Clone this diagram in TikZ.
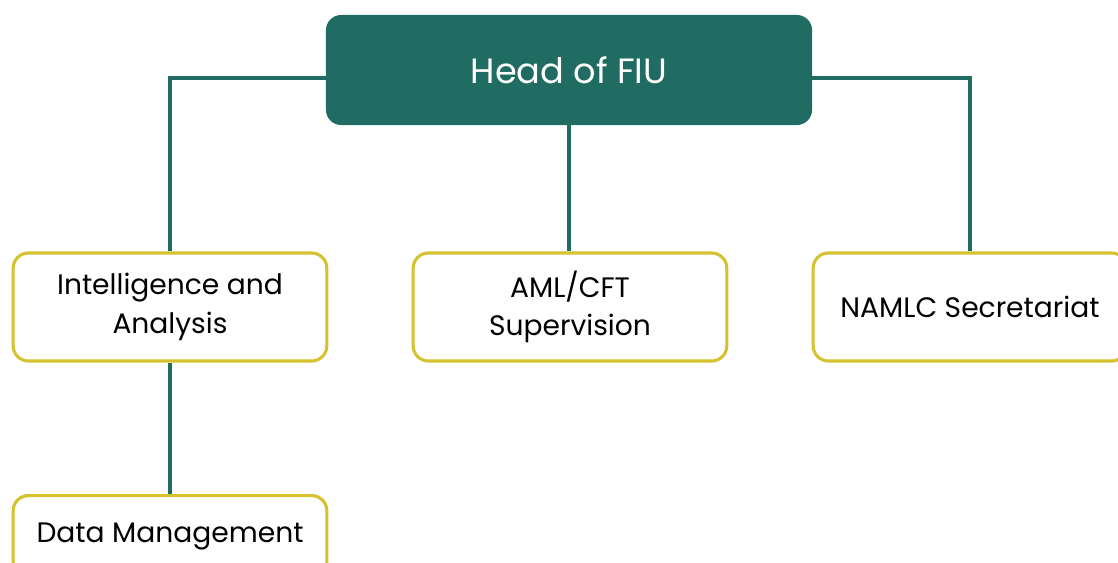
\documentclass[tikz,border=0pt]{standalone}
\usepackage{fontspec}
\setmainfont{Poppins}
\usetikzlibrary{positioning,backgrounds}

\definecolor{fiuteal}{RGB}{32,108,98}
\definecolor{fiugold}{RGB}{214,193,46}

\begin{document}
\begin{tikzpicture}[
    x=0.025cm, y=-0.025cm,
    head/.style={rectangle, rounded corners=0.38cm, fill=fiuteal, text=white, minimum width=12.15cm, minimum height=2.75cm, align=center, font=\fontsize{25}{30}\selectfont},
    unit/.style={rectangle, rounded corners=0.38cm, draw=fiugold, line width=2.2pt, fill=white, minimum width=7.84cm, minimum height=2.7cm, align=center, font=\fontsize{20}{27.5}\selectfont},
    wire/.style={draw=fiuteal, line width=2.6pt}
]
\useasboundingbox (0,0) rectangle (1118,562);

% head
\node[head] (fiu) at (569, 70) {Head of FIU};

% units
\node[unit] (intel) at (170, 307) {Intelligence and\\Analysis};
\node[unit] (aml) at (570, 307) {AML/CFT\\Supervision};
\node[unit] (namlc) at (970, 307) {NAMLC Secretariat};
\node[unit, minimum height=2.05cm, anchor=north] (data) at (170, 494) {Data Management};

% connections
\begin{scope}[on background layer]
\draw[wire] ([yshift=-0.2cm]fiu.west) -| (intel.north);
\draw[wire] ([yshift=-0.2cm]fiu.east) -| (namlc.north);
\draw[wire] (fiu.south) -- (fiu.south |- aml.north);
\draw[wire] (intel.south) -- (data.north);
\end{scope}

\end{tikzpicture}
\end{document}
